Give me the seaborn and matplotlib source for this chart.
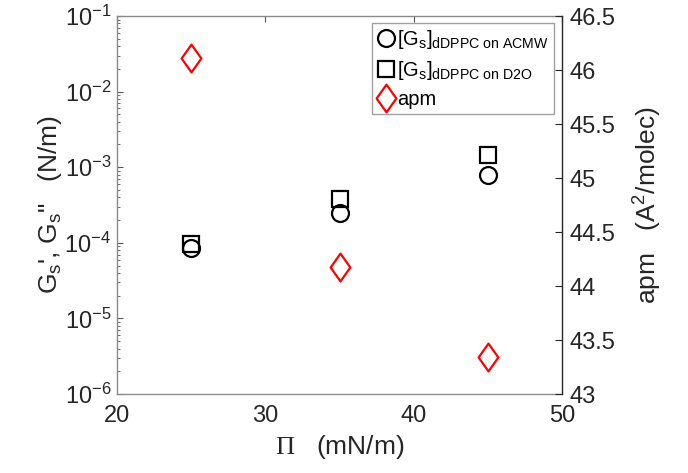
import numpy as np
import pandas as pd
import matplotlib
matplotlib.use("Agg")
import matplotlib.pyplot as plt
from matplotlib.path import Path
from matplotlib.ticker import FixedLocator, FuncFormatter, LogLocator, NullFormatter
import seaborn as sns

# ---- data ----
pressure = [25, 35, 45]
gs_acmw = [8.5e-5, 2.48e-4, 7.9e-4]
gs_d2o = [9.6e-5, 3.8e-4, 1.47e-3]
apm = [46.11, 44.18, 43.34]
x_ticks = [20, 30, 40, 50]
apm_ticks = [43, 43.5, 44, 44.5, 45, 45.5, 46, 46.5]

sns.set_style("white")
plt.rcParams["font.family"] = ["Liberation Sans", "DejaVu Sans"]
plt.rcParams["mathtext.fontset"] = "custom"
plt.rcParams["mathtext.rm"] = "Liberation Serif"
plt.rcParams["mathtext.sf"] = "Liberation Sans"
plt.rcParams["mathtext.it"] = "Liberation Sans:italic"
plt.rcParams["mathtext.bf"] = "Liberation Sans:bold"

df = pd.DataFrame({"P": pressure, "acmw": gs_acmw, "d2o": gs_d2o, "apm": apm})

fig = plt.figure(figsize=(6.88, 4.73), dpi=100)
ax = fig.add_axes([0.170, 0.167, 0.647, 0.799])
ax2 = ax.twinx()

lab1 = r"[G$_\mathsf{s}$]$_\mathsf{dDPPC\ on\ ACMW}$"
lab2 = r"[G$_\mathsf{s}$]$_\mathsf{dDPPC\ on\ D2O}$"

sns.lineplot(data=df, x="P", y="acmw", ax=ax, marker="o", linestyle="", markersize=12.2,
             mfc="none", mec="black", mew=1.6, color="black", label=lab1)
sns.lineplot(data=df, x="P", y="d2o", ax=ax, marker="s", linestyle="", markersize=11.5,
             mfc="none", mec="black", mew=1.6, color="black", label=lab2)

diamond = Path([(0, 1), (0.71, 0), (0, -1), (-0.71, 0), (0, 1)],
               [Path.MOVETO, Path.LINETO, Path.LINETO, Path.LINETO, Path.CLOSEPOLY])
sns.lineplot(data=df, x="P", y="apm", ax=ax2, marker=diamond, linestyle="", markersize=20,
             mfc="none", mec="red", mew=1.6, color="red", label="apm")

ax.set_yscale("log")
ax.set_ylim(1e-6, 1e-1)
ax.set_xlim(20, 50)
ax.xaxis.set_major_locator(FixedLocator(x_ticks))
ax.yaxis.set_major_locator(LogLocator(base=10, numticks=10))
ax.yaxis.set_minor_locator(LogLocator(base=10, subs=np.arange(2, 10), numticks=20))
ax.yaxis.set_minor_formatter(NullFormatter())

ax2.set_ylim(43, 46.5)
ax2.yaxis.set_major_locator(FixedLocator(apm_ticks))
ax2.yaxis.set_major_formatter(FuncFormatter(lambda v, p: f"{v:g}"))

tc = "#262626"
ax.tick_params(axis="both", which="major", direction="in", length=4, width=0.8,
               labelsize=17, colors="#555555", labelcolor=tc, top=True)
ax.tick_params(axis="y", which="minor", direction="in", length=2, width=0.6, colors="#555555", left=True)
ax.tick_params(axis="x", pad=8)
ax.tick_params(axis="y", pad=4)
ax2.tick_params(axis="y", which="major", direction="in", length=5, width=0.8,
                labelsize=17, colors="#262626", labelcolor=tc, pad=5)

for s in ["left", "bottom", "top"]:
    ax.spines[s].set_color("#8a8a8a")
    ax.spines[s].set_linewidth(1.0)
for s in ["left", "bottom", "top"]:
    ax2.spines[s].set_visible(False)
ax2.spines["right"].set_color("#262626")
ax2.spines["right"].set_linewidth(1.0)
ax.spines["right"].set_visible(False)

ax.set_xlabel(r"$\Pi$   (mN/m)", fontsize=19, color=tc, labelpad=4)
ax.set_ylabel("G$_\\mathsf{s}$', G$_\\mathsf{s}$\"   (N/m)", fontsize=19, color=tc, labelpad=0)
ax2.set_ylabel(r"apm   (A$^\mathsf{2}$/molec)", fontsize=19, color=tc, labelpad=12)

h1, l1 = ax.get_legend_handles_labels()
h2, l2 = ax2.get_legend_handles_labels()
if ax.get_legend():
    ax.get_legend().remove()
if ax2.get_legend():
    ax2.get_legend().remove()
leg = ax2.legend(h1 + h2, l1 + l2, loc="upper right", bbox_to_anchor=(0.982, 0.982),
                 fontsize=14.5, frameon=True, fancybox=False, edgecolor="#8a8a8a",
                 handlelength=0.85, handletextpad=0.15, borderpad=0.25, labelspacing=0.4,
                 borderaxespad=0.0)
leg.get_frame().set_linewidth(1.0)
for t in leg.get_texts():
    t.set_color("black")

fig.savefig("out.png", dpi=100)
